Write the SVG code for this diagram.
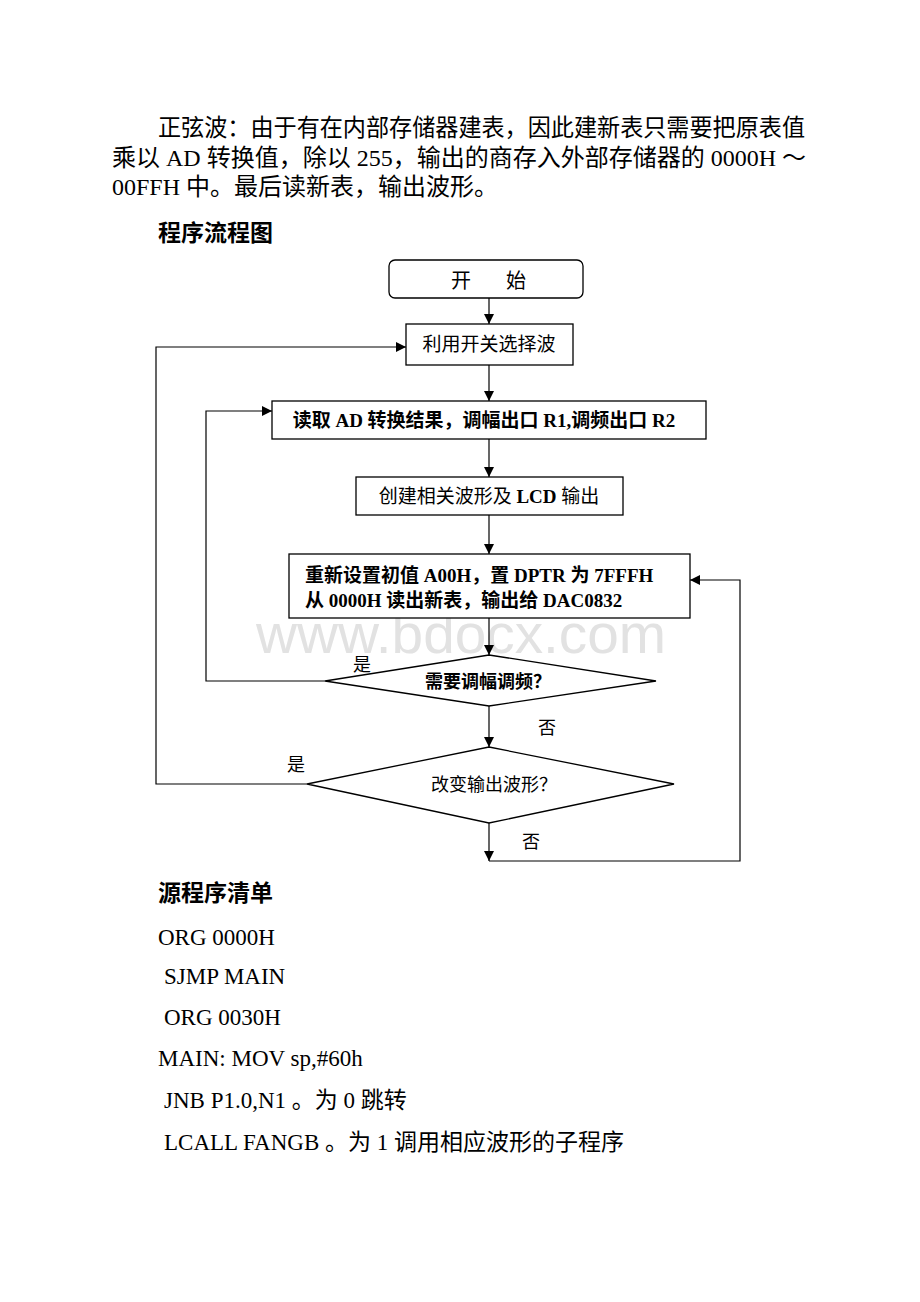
<svg xmlns="http://www.w3.org/2000/svg" width="920" height="1302" viewBox="0 0 920 1302">
<style>
text{font-family:"Liberation Serif","Noto Sans CJK SC",serif;fill:#000}
.p{font-size:24px}
.h{font-size:23px;font-weight:bold}
.c{font-size:23px}
.b{font-size:19px;text-anchor:middle}
.bb{font-size:19px;text-anchor:middle;font-weight:bold}
.lbl{font-size:18px;text-anchor:middle}
.wm{font-family:"Liberation Sans",Arial,sans-serif;font-size:55px;fill:#e2e2e2}
.shape{fill:#fff;stroke:#000;stroke-width:1.3}
.ln{fill:none;stroke:#000;stroke-width:1.2}
</style>
<defs>
<marker id="ah" viewBox="0 0 10 10" refX="10" refY="5" markerWidth="10" markerHeight="10" markerUnits="userSpaceOnUse" orient="auto">
<path d="M0,0 L10,5 L0,10 Z" fill="#000"/>
</marker>
</defs>
<rect width="920" height="1302" fill="#fff"/>

<text class="wm" x="256" y="653" textLength="410" lengthAdjust="spacingAndGlyphs">www.bdocx.com</text>

<g id="para">
<text class="p" x="158" y="136" textLength="647" lengthAdjust="spacingAndGlyphs">正弦波：由于有在内部存储器建表，因此建新表只需要把原表值</text>
<text class="p" x="112" y="166">乘以 AD 转换值，除以 255，输出的商存入外部存储器的 0000H ～</text>
<text class="p" x="112" y="195">00FFH 中。最后读新表，输出波形。</text>
<text class="h" x="158" y="241">程序流程图</text>
</g>

<g id="connectors">
<line class="ln" x1="489" y1="298" x2="489" y2="324" marker-end="url(#ah)"/>
<line class="ln" x1="489" y1="365" x2="489" y2="401" marker-end="url(#ah)"/>
<line class="ln" x1="489" y1="439" x2="489" y2="477" marker-end="url(#ah)"/>
<line class="ln" x1="489" y1="515" x2="489" y2="554" marker-end="url(#ah)"/>
<line class="ln" x1="489" y1="618" x2="489" y2="655" marker-end="url(#ah)"/>
<line class="ln" x1="489" y1="706" x2="489" y2="747" marker-end="url(#ah)"/>
<polyline class="ln" points="325,681 206,681 206,411 272,411" marker-end="url(#ah)"/>
<polyline class="ln" points="307,784 156,784 156,347 406,347" marker-end="url(#ah)"/>
<line class="ln" x1="489" y1="823" x2="489" y2="861" marker-end="url(#ah)"/>
<polyline class="ln" points="489,861 740,861 740,580 690,580" marker-end="url(#ah)"/>
<text class="lbl" x="362" y="671">是</text>
<text class="lbl" x="547" y="734">否</text>
<text class="lbl" x="296" y="771">是</text>
<text class="lbl" x="531" y="848">否</text>
</g>

<g id="start">
<rect class="shape" x="389" y="260" width="194" height="38" rx="6"/>
<text style="font-size:20px;text-anchor:middle" y="288"><tspan x="461">开</tspan><tspan x="516">始</tspan></text>
</g>

<g id="select">
<rect class="shape" x="406" y="324" width="167" height="41"/>
<text class="b" x="489" y="351">利用开关选择波</text>
</g>

<g id="readad">
<rect class="shape" x="272" y="401" width="434" height="38"/>
<text class="bb" x="484" y="427">读取 AD 转换结果，调幅出口 R1,调频出口 R2</text>
</g>

<g id="create">
<rect class="shape" x="356" y="477" width="267" height="38"/>
<text class="b" x="489" y="503">创建相关波形及 <tspan font-weight="bold">LCD</tspan> 输出</text>
</g>

<g id="reset">
<rect class="shape" x="289" y="554" width="401" height="64"/>
<text class="bb" x="305" y="582" style="text-anchor:start">重新设置初值 A00H，置 DPTR 为 7FFFH</text>
<text class="bb" x="305" y="607" style="text-anchor:start">从 0000H 读出新表，输出给 DAC0832</text>
</g>

<g id="decision1">
<polygon class="shape" points="489,655 656,681 489,706 325,681"/>
<text class="bb" x="488" y="688" style="font-size:18px">需要调幅调频？</text>
</g>

<g id="decision2">
<polygon class="shape" points="489,747 674,784 489,823 307,784"/>
<text class="b" x="494" y="791" style="font-size:18px">改变输出波形？</text>
</g>

<g id="listing">
<text class="h" x="158" y="901">源程序清单</text>
<text class="c" x="158" y="945">ORG 0000H</text>
<text class="c" x="164" y="984">SJMP MAIN</text>
<text class="c" x="164" y="1025">ORG 0030H</text>
<text class="c" x="158" y="1066">MAIN: MOV sp,#60h</text>
<text class="c" x="164" y="1108">JNB P1.0,N1 。为 0 跳转</text>
<text class="c" x="164" y="1150">LCALL FANGB 。为 1 调用相应波形的子程序</text>
</g>
</svg>
